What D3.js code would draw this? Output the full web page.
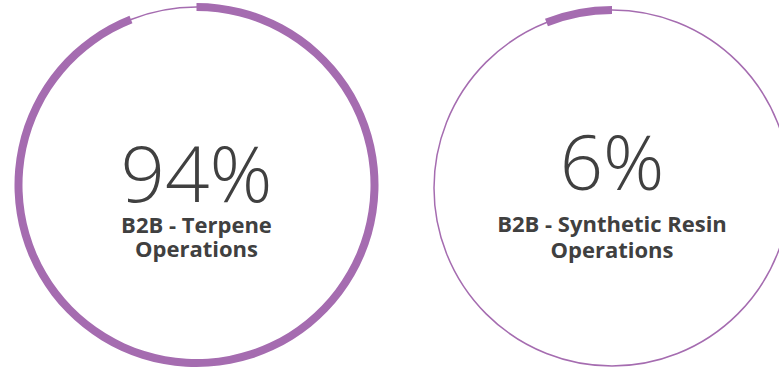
<!DOCTYPE html>
<html>
<head>
<meta charset="utf-8">
<script src="https://cdn.jsdelivr.net/npm/d3@7"></script>
<style>
  html, body { margin: 0; padding: 0; background: #fff; }
  svg { display: block; }
</style>
</head>
<body>
<div id="chart"></div>
<script>
// Data
var categories = ["B2B - Terpene Operations", "B2B - Synthetic Resin Operations"];
var labelLines = [["B2B - Terpene", "Operations"], ["B2B - Synthetic Resin", "Operations"]];
var shares = [94, 6];
var valueLabels = ["94%", "6%"];

// Layout (one entry per ring)
var layout = [
    {cx: 196.5, cy: 185, r: 178, dir: 1, valueSize: 78, valueY: 201.5, line1Y: 233, line2Y: 257},
    {cx: 612, cy: 188, r: 178, dir: -1, valueSize: 76, valueY: 190, line1Y: 232, line2Y: 258}
];

var width = 779, height = 372;
var purple = "#a56cb0", textColor = "#404040";

var svg = d3.select("#chart").append("svg")
    .attr("width", width)
    .attr("height", height);

var angle = d3.scaleLinear().domain([0, 100]).range([0, 2 * Math.PI]);

var rings = svg.selectAll("g.ring")
    .data(categories)
    .enter().append("g")
    .attr("class", "ring")
    .attr("transform", (d, i) => "translate(" + layout[i].cx + "," + layout[i].cy + ")");

// thin base circle
rings.append("circle")
    .attr("r", (d, i) => layout[i].r)
    .attr("fill", "none")
    .attr("stroke", purple)
    .attr("stroke-width", 1.5);

// thick share arc
rings.append("path")
    .attr("fill", purple)
    .attr("d", (d, i) => d3.arc()
        .innerRadius(layout[i].r - 4)
        .outerRadius(layout[i].r + 4)
        .startAngle(0)
        .endAngle(layout[i].dir * angle(shares[i]))());

// big percentage
svg.selectAll("text.value")
    .data(valueLabels)
    .enter().append("text")
    .attr("class", "value")
    .attr("x", (d, i) => layout[i].cx)
    .attr("y", (d, i) => layout[i].valueY)
    .attr("text-anchor", "middle")
    .style("font-family", "'Open Sans', sans-serif")
    .style("font-weight", 300)
    .style("font-size", (d, i) => layout[i].valueSize + "px")
    .style("fill", textColor)
    .text(d => d);

// category labels, two lines each
labelLines.forEach(function(lines, i) {
    lines.forEach(function(line, j) {
        svg.append("text")
            .attr("x", layout[i].cx)
            .attr("y", j === 0 ? layout[i].line1Y : layout[i].line2Y)
            .attr("text-anchor", "middle")
            .style("font-family", "'Open Sans', sans-serif")
            .style("font-weight", 700)
            .style("font-size", "22px")
            .style("fill", textColor)
            .text(line);
    });
});
</script>
</body>
</html>
